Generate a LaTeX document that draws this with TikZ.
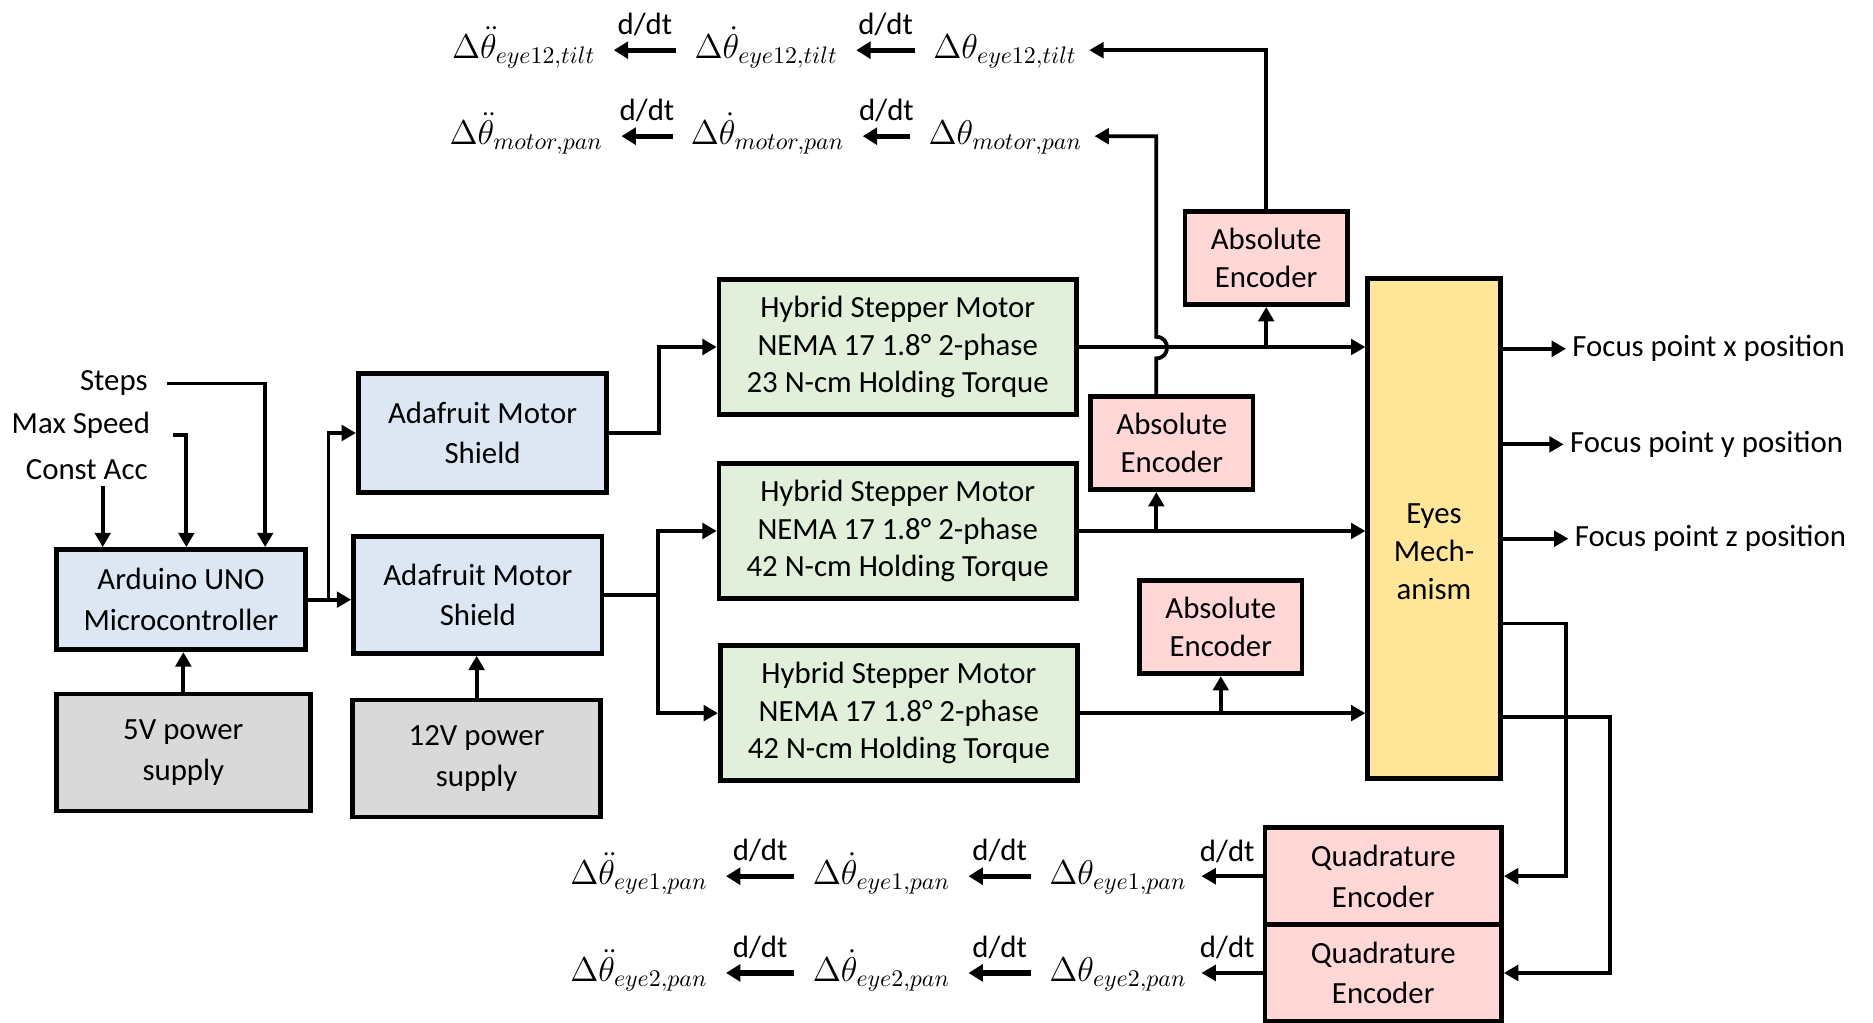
\documentclass[tikz,border=0pt]{standalone}
\usepackage{fontspec}
\setmainfont{Carlito}
\usetikzlibrary{arrows.meta}
\definecolor{cblue}{HTML}{DDE7F4}
\definecolor{cgreen}{HTML}{E2EFDA}
\definecolor{cpink}{HTML}{FFD7D7}
\definecolor{cgray}{HTML}{D9D9D9}
\definecolor{cyellow}{HTML}{FFE699}
\begin{document}
\begin{tikzpicture}[x=0.5pt,y=-0.5pt,
 txt/.style={font=\fontsize{12.9}{16.5}\selectfont, align=center, inner sep=0pt, text=black},
 box/.style={txt, draw=black, line width=2pt, anchor=center},
 mbox/.style={box, fill=cgreen, minimum width=149.5pt, minimum height=56.5pt, font=\fontsize{12.9}{15.75}\selectfont},
 abox/.style={box, fill=cpink, minimum width=68pt, minimum height=39pt, font=\fontsize{12.9}{16}\selectfont},
 qbox/.style={box, fill=cpink, minimum width=99pt, minimum height=40.5pt, font=\fontsize{12.9}{17}\selectfont},
 conn/.style={line width=1.6pt, -{Triangle[length=6pt,width=6.5pt]}},
 darr/.style={line width=2.2pt, -{Triangle[length=6pt,width=7pt]}, shorten <=5.5pt, shorten >=5.5pt},
 mth/.style={inner sep=2pt, text height=11pt, text depth=4pt, font=\fontsize{14}{16}\selectfont, anchor=west},
 dd/.style={font=\fontsize{12.9}{15}\selectfont, inner sep=0pt, above=5pt}
]
\useasboundingbox (0,0) rectangle (1568,856);

% boxes
\node[box, fill=cblue, minimum width=104.5pt, minimum height=42pt, font=\fontsize{12.9}{17}\selectfont] (ard) at (151.5,502) {Arduino UNO\\Microcontroller};
\node[box, fill=cblue, minimum width=104pt, minimum height=49.5pt, font=\fontsize{12.9}{17}\selectfont] (ada1) at (404,362.5) {Adafruit Motor\\Shield};
\node[box, fill=cblue, minimum width=104pt, minimum height=49pt, font=\fontsize{12.9}{17}\selectfont] (ada2) at (400,498) {Adafruit Motor\\Shield};
\node[box, fill=cgray, minimum width=106.5pt, minimum height=49pt, font=\fontsize{12.9}{17.5}\selectfont] (p5) at (153.5,630) {5V power\\supply};
\node[box, fill=cgray, minimum width=104pt, minimum height=49pt, font=\fontsize{12.9}{17.5}\selectfont] (p12) at (399,635) {12V power\\supply};
\node[mbox] (m1) at (751.5,290.5) {Hybrid Stepper Motor\\NEMA 17 1.8° 2-phase\\23 N-cm Holding Torque};
\node[mbox] (m2) at (751.5,444.5) {Hybrid Stepper Motor\\NEMA 17 1.8° 2-phase\\42 N-cm Holding Torque};
\node[mbox] (m3) at (752.5,597) {Hybrid Stepper Motor\\NEMA 17 1.8° 2-phase\\42 N-cm Holding Torque};
\node[abox] (ae1) at (1060,216) {Absolute\\Encoder};
\node[abox] (ae2) at (981,371) {Absolute\\Encoder};
\node[abox] (ae3) at (1022,525) {Absolute\\Encoder};
\node[box, fill=cyellow, minimum width=55.5pt, minimum height=209.5pt] (eyes) at (1200.5,442.5) {};
\node[txt, font=\fontsize{12.9}{16}\selectfont] (eyestxt) at (1200.5,462) {Eyes\\Mech-\\anism};
\node[qbox] (qe1) at (1158,733.5) {Quadrature\\Encoder};
\node[qbox] (qe2) at (1158,814.5) {Quadrature\\Encoder};

% input labels
\node[txt, anchor=east] (steps) at (124,321) {Steps};
\node[txt, anchor=east] (maxs) at (126,356) {Max Speed};
\node[txt, anchor=east] (cacc) at (124,393) {Const Acc};
\coordinate (stc) at (140,321);
\coordinate (msc) at (145,364);
\coordinate (cac) at (86,407);

% focus outputs
\node[txt, anchor=west, inner xsep=2.5pt] (fx) at (1311,292) {Focus point x position};
\node[txt, anchor=west, inner xsep=2.5pt] (fy) at (1309,372) {Focus point y position};
\node[txt, anchor=west, inner xsep=2.5pt] (fz) at (1313,451) {Focus point z position};

% derivative rows
\node[mth] (t1) at (374,42) {$\Delta\ddot{\theta}_{eye12,tilt}$};
\node[mth] (t2) at (577,42) {$\Delta\dot{\theta}_{eye12,tilt}$};
\node[mth] (t3) at (777,42) {$\Delta\theta_{eye12,tilt}$};
\node[mth] (p1) at (372,114) {$\Delta\ddot{\theta}_{motor,pan}$};
\node[mth] (p2) at (574,114) {$\Delta\dot{\theta}_{motor,pan}$};
\node[mth] (p3) at (773,114) {$\Delta\theta_{motor,pan}$};
\node[mth] (b1) at (473,733.5) {$\Delta\ddot{\theta}_{eye1,pan}$};
\node[mth] (b2) at (676,733.5) {$\Delta\dot{\theta}_{eye1,pan}$};
\node[mth] (b3) at (874,733.5) {$\Delta\theta_{eye1,pan}$};
\node[mth] (c1) at (473,814.5) {$\Delta\ddot{\theta}_{eye2,pan}$};
\node[mth] (c2) at (676,814.5) {$\Delta\dot{\theta}_{eye2,pan}$};
\node[mth] (c3) at (874,814.5) {$\Delta\theta_{eye2,pan}$};

\draw[darr] (t3.west) -- (t2.east) node[midway, dd] {d/dt};
\draw[darr] (t2.west) -- (t1.east) node[midway, dd] {d/dt};
\draw[darr] (p3.west) -- (p2.east) node[midway, dd] {d/dt};
\draw[darr] (p2.west) -- (p1.east) node[midway, dd] {d/dt};
\draw[darr] (b3.west) -- (b2.east) node[midway, dd] {d/dt};
\draw[darr] (b2.west) -- (b1.east) node[midway, dd] {d/dt};
\draw[darr] (c3.west) -- (c2.east) node[midway, dd] {d/dt};
\draw[darr] (c2.west) -- (c1.east) node[midway, dd] {d/dt};
\draw[conn, shorten >=4pt] (qe1.west) -- (b3.east) node[midway, dd] {d/dt};
\draw[conn, shorten >=4pt] (qe2.west) -- (c3.east) node[midway, dd] {d/dt};

% inputs to Arduino
\draw[conn] (stc) -| ([xshift=35.25pt]ard.north);
\draw[conn] (msc) -| ([xshift=2.25pt]ard.north);
\draw[conn] (cac) -- (cac |- ard.north);
\draw[conn] (p5.north) -- (p5.north |- ard.south);
\draw[conn] (p12.north) -- (p12.north |- ada2.south);

% Arduino to shields
\draw[conn] (ard.east) -- (ard.east -| ada2.west);
\coordinate (j1) at ([xshift=8.5pt]ard.east);
\draw[conn] (j1) |- (ada1.west);

% shields to motors
\draw[conn] (ada1.east) -- ++(42,0) |- (m1.west);
\draw[conn] (ada2.east) -- ++(45,0) coordinate (j2) |- (m2.west);
\draw[conn] (j2) |- (m3.west);

% motors to eyes and encoders
\draw[conn] (m1.east) -- (m1.east -| eyes.west);
\draw[conn] (m2.east) -- (m2.east -| eyes.west);
\draw[conn] (m3.east) -- (m3.east -| eyes.west);
\draw[conn] (m1.east -| ae1.south) -- (ae1.south);
\coordinate (a2n) at ([xshift=-6.5pt]ae2.north);
\coordinate (a2s) at ([xshift=-6.5pt]ae2.south);
\draw[conn] (m2.east -| a2s) -- (a2s);
\draw[conn] (m3.east -| ae3.south) -- (ae3.south);

% encoders up to derivative rows
\draw[conn, shorten >=3pt] (ae1.north) |- (t3.east);
\coordinate (bA) at (968,300);
\coordinate (bB) at (968,282);
\draw[conn, shorten >=3pt] (a2n) -- (bA) .. controls (980,300) and (980,282) .. (bB) |- (p3.east);

% eyes outputs
\draw[conn] (eyes.east |- fx.west) -- (fx.west);
\draw[conn] (eyes.east |- fy.west) -- (fy.west);
\draw[conn] (eyes.east |- fz.west) -- (fz.west);
\draw[conn] ([yshift=-39.75pt]eyes.east) -- ++(53,0) |- (qe1.east);
\draw[conn] ([yshift=-78.75pt]eyes.east) -- ++(90,0) |- (qe2.east);
\end{tikzpicture}
\end{document}
